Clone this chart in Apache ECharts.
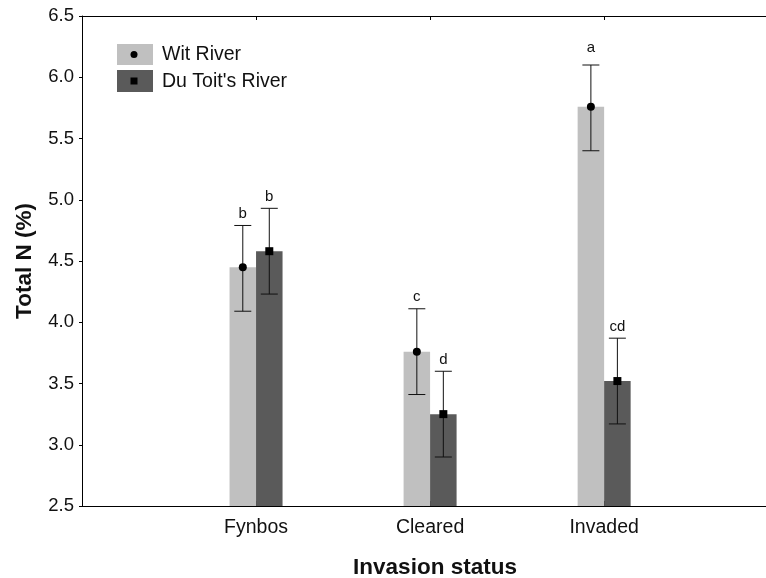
<!DOCTYPE html>
<html>
<head>
<meta charset="utf-8">
<script src="https://cdn.jsdelivr.net/npm/echarts@6/dist/echarts.min.js"></script>
<style>
  html, body { margin: 0; padding: 0; background: #fff; }
  #chart { width: 766px; height: 578px; }
</style>
</head>
<body>
<div id="chart"></div>
<script>
// Group names; they sit at x = 1, 2, 3 on the horizontal scale
const categories = ['Fynbos', 'Cleared', 'Invaded'];
const xRange = { min: 0, max: 3.93, interval: 1 };

// Total N (%) means with error bar limits
const witMean  = [4.45, 3.76, 5.76];
const witLow   = [4.09, 3.41, 5.40];
const witHigh  = [4.79, 4.11, 6.10];
const witLetters = ['b', 'c', 'a'];

const duMean  = [4.58, 3.25, 3.52];
const duLow   = [4.23, 2.90, 3.17];
const duHigh  = [4.93, 3.60, 3.87];
const duLetters = ['b', 'd', 'cd'];

const yTicks = { min: 2.5, max: 6.5, interval: 0.5 };

const WIT_COLOR = '#c0c0c0';
const DU_COLOR = '#5a5a5a';
const BAR_W = 26.5;
const FONT = 'Liberation Sans, Arial, sans-serif';

function barData(mean) { return mean.map((m, i) => [i + 1, m]); }

function errorData(mean, low, high, letters) {
  return mean.map((m, i) => [i + 1, m, low[i], high[i], letters[i]]);
}

function xLabel(v) {
  const i = Math.round(v);
  return (Math.abs(v - i) < 1e-6 && i >= 1 && i <= categories.length) ? categories[i - 1] : '';
}

function errorSeries(name, data, offset, markerShape) {
  return {
    type: 'custom',
    name: name,
    z: 5,
    data: data,
    encode: { x: 0, y: [1, 2, 3] },
    renderItem: function (params, api) {
      const cx = api.value(0);
      const pm = api.coord([cx, api.value(1)]);
      const pl = api.coord([cx, api.value(2)]);
      const ph = api.coord([cx, api.value(3)]);
      const x = pm[0] + offset;
      const cap = 8.5;
      const ls = { stroke: '#111', lineWidth: 1 };
      const letter = data[params.dataIndex][4];
      // the top group letter sits a little higher above its cap
      const gap = api.value(3) > 6 ? 10 : 4;
      const marker = markerShape === 'circle'
        ? { type: 'circle', shape: { cx: x, cy: pm[1], r: 4 }, style: { fill: '#000' } }
        : { type: 'rect', shape: { x: x - 4, y: pm[1] - 4, width: 8, height: 8 }, style: { fill: '#000' } };
      return {
        type: 'group',
        children: [
          { type: 'line', shape: { x1: x, y1: ph[1], x2: x, y2: pl[1] }, style: ls },
          { type: 'line', shape: { x1: x - cap, y1: ph[1], x2: x + cap, y2: ph[1] }, style: ls },
          { type: 'line', shape: { x1: x - cap, y1: pl[1], x2: x + cap, y2: pl[1] }, style: ls },
          marker,
          { type: 'text', style: { x: x, y: ph[1] - gap, text: letter, fill: '#111',
              font: '15px ' + FONT, align: 'center', verticalAlign: 'bottom' } }
        ]
      };
    }
  };
}

const chart = echarts.init(document.getElementById('chart'), null, { renderer: 'canvas' });

const axisBase = {
  type: 'value',
  min: xRange.min,
  max: xRange.max,
  interval: xRange.interval,
  axisLine: { show: true, lineStyle: { color: '#000', width: 1 } },
  splitLine: { show: false }
};

chart.setOption({
  animation: false,
  backgroundColor: '#fff',
  grid: { left: 82, right: 0, top: 16, bottom: 72, outerBoundsMode: 'none', containLabel: false },
  xAxis: [
    Object.assign({}, axisBase, {
      position: 'bottom',
      name: 'Invasion status',
      nameLocation: 'middle',
      nameGap: 50,
      nameTextStyle: { fontFamily: FONT, fontSize: 22.5, fontWeight: 'bold', color: '#111',
        padding: [0, 0, 0, 22] },
      axisTick: { show: true, inside: true, length: 5, lineStyle: { color: '#000' } },
      axisLabel: { margin: 12, fontFamily: FONT, fontSize: 19.5, color: '#111', formatter: xLabel }
    }),
    Object.assign({}, axisBase, {
      position: 'top',
      axisTick: { show: true, inside: true, length: 4, lineStyle: { color: '#000' } },
      axisLabel: { show: false }
    })
  ],
  yAxis: {
    type: 'value',
    min: yTicks.min,
    max: yTicks.max,
    interval: yTicks.interval,
    name: 'Total N (%)',
    nameLocation: 'middle',
    nameGap: 46,
    nameTextStyle: { fontFamily: FONT, fontSize: 22.5, fontWeight: 'bold', color: '#111' },
    axisLine: { show: true, lineStyle: { color: '#000', width: 1 } },
    axisTick: { show: true, inside: false, length: 3, lineStyle: { color: '#000' } },
    axisLabel: { margin: 8, fontFamily: FONT, fontSize: 18.5, color: '#111',
      formatter: v => v.toFixed(1) },
    splitLine: { show: false }
  },
  series: [
    { type: 'bar', name: 'Wit River', data: barData(witMean), barWidth: BAR_W, barGap: '0%',
      itemStyle: { color: WIT_COLOR } },
    { type: 'bar', name: "Du Toit's River", data: barData(duMean), barWidth: BAR_W, barGap: '0%',
      itemStyle: { color: DU_COLOR } },
    errorSeries('Wit River SE', errorData(witMean, witLow, witHigh, witLetters), -BAR_W / 2, 'circle'),
    errorSeries("Du Toit's River SE", errorData(duMean, duLow, duHigh, duLetters), BAR_W / 2, 'square')
  ],
  // legend swatches with the mean marker inside
  graphic: [
    { type: 'rect', shape: { x: 117, y: 44, width: 36, height: 21 }, style: { fill: WIT_COLOR } },
    { type: 'circle', shape: { cx: 134, cy: 54.5, r: 3.5 }, style: { fill: '#000' } },
    { type: 'text', style: { x: 162, y: 55, text: 'Wit River', fill: '#111',
        font: '19.5px ' + FONT, verticalAlign: 'middle' } },
    { type: 'rect', shape: { x: 117, y: 70, width: 36, height: 22 }, style: { fill: DU_COLOR } },
    { type: 'rect', shape: { x: 130.5, y: 77.5, width: 7, height: 7 }, style: { fill: '#000' } },
    { type: 'text', style: { x: 162, y: 81.5, text: "Du Toit's River", fill: '#111',
        font: '19.5px ' + FONT, verticalAlign: 'middle' } }
  ]
});
</script>
</body>
</html>
